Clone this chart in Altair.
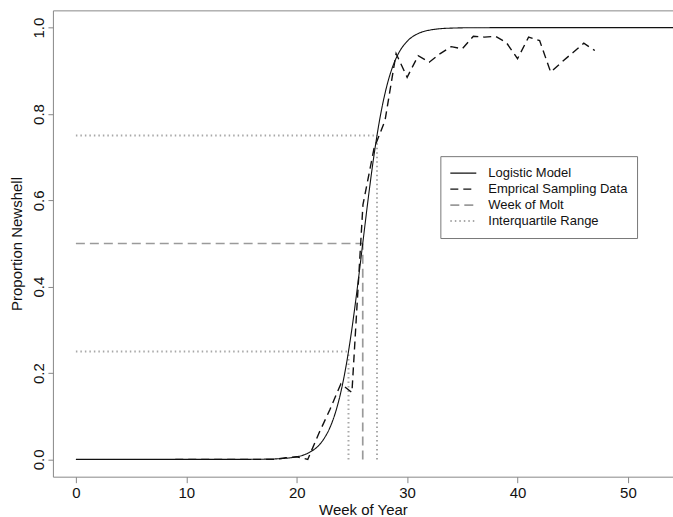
import altair as alt
import pandas as pd

# ---- data ----
series_names = ["Logistic Model", "Emprical Sampling Data", "Week of Molt", "Interquartile Range"]

logistic_weeks = [0, 5, 10, 14, 16, 17, 18, 19, 20, 21, 22, 22.5, 23, 23.5, 24, 24.5, 25, 25.5,
                  26, 26.5, 27, 27.5, 28, 28.5, 29, 29.5, 30, 31, 32, 33, 34, 36, 40, 50, 56]
logistic_prop = [0.0, 0.0, 0.0, 0.0, 0.0002, 0.0005, 0.0011, 0.0026, 0.0061, 0.0142, 0.0326, 0.0491,
                 0.0732, 0.1079, 0.1562, 0.2208, 0.3026, 0.3992, 0.5043, 0.609, 0.7046, 0.785,
                 0.848, 0.8954, 0.929, 0.9525, 0.9684, 0.9863, 0.9941, 0.9975, 0.9989, 0.9998,
                 1.0, 1.0, 1.0]

sample_weeks = list(range(9, 48))
sample_prop = [0, 0, 0, 0, 0, 0, 0, 0, 0, 0,
               0.004, 0.006, 0.0, 0.06, 0.115, 0.175, 0.155, 0.59, 0.72, 0.785,
               0.94, 0.885, 0.935, 0.92, 0.94, 0.956, 0.951, 0.98, 0.978, 0.98,
               0.965, 0.928, 0.978, 0.97, 0.897, 0.92, 0.942, 0.964, 0.947]

ref_weeks = [24.69, 25.98, 27.27]
ref_levels = [0.25, 0.5, 0.75]
ref_series = ["Interquartile Range", "Week of Molt", "Interquartile Range"]

x_ticks = [0, 10, 20, 30, 40, 50]
y_ticks = [0.0, 0.2, 0.4, 0.6, 0.8, 1.0]

# ---- tables ----
logi = pd.DataFrame({"week": logistic_weeks, "prop": logistic_prop, "series": series_names[0]})
samp = pd.DataFrame({"week": sample_weeks, "prop": sample_prop, "series": series_names[1]})

rows = []
for w, lv, s in zip(ref_weeks, ref_levels, ref_series):
    rows.append({"x": 0, "x2": w, "y": lv, "y2": lv, "series": s})
    rows.append({"x": w, "x2": w, "y": 0, "y2": lv, "series": s})
refs = pd.DataFrame(rows)

FONT = "Liberation Sans"

xscale = alt.Scale(domain=[-2.08, 54.08], nice=False, zero=False)
yscale = alt.Scale(domain=[-0.04, 1.04], nice=False, zero=False)

color_scale = alt.Scale(domain=series_names, range=["#111111", "#111111", "#9a9a9a", "#a8a8a8"])
dash_scale = alt.Scale(domain=series_names, range=[[1, 0], [8, 5], [9, 5], [1.5, 3]])
width_scale = alt.Scale(domain=series_names, range=[1.1, 2.0, 1.3, 1.3])

leg = alt.Legend(
    title=None, orient="none", legendX=388, legendY=146,
    symbolType="stroke", symbolSize=676, symbolStrokeWidth=1.6,
    labelFont=FONT, labelFontSize=13, labelColor="#111", labelOffset=11,
    padding=9, strokeColor="#777", clipHeight=16, rowPadding=0,
)

def enc_series():
    return dict(
        color=alt.Color("series:N", scale=color_scale, legend=leg),
        strokeDash=alt.StrokeDash("series:N", scale=dash_scale, legend=leg),
        strokeWidth=alt.StrokeWidth("series:N", scale=width_scale, legend=leg),
    )

xaxis = alt.Axis(values=x_ticks, title="Week of Year", tickSize=6, labelPadding=3,
                 domain=False, grid=False, tickColor="#888", labelColor="#111",
                 labelFont=FONT, labelFontSize=15, titleFont=FONT, titleFontSize=15,
                 titleFontWeight="normal", titleColor="#111", titleY=38,
                 titleBaseline="alphabetic", labelFlush=False)
yaxis = alt.Axis(values=y_ticks, title="Proportion Newshell", format=".1f", tickSize=5,
                 labelPadding=4, labelAngle=-90, labelAlign="center", labelBaseline="alphabetic",
                 domain=False, grid=False, tickColor="#888", labelColor="#111",
                 labelFont=FONT, labelFontSize=15, titleFont=FONT, titleFontSize=15,
                 titleFontWeight="normal", titleColor="#111", titleAngle=-90,
                 titleX=-31, titleY=233.5, titleAlign="center", titleBaseline="alphabetic",
                 labelFlush=False)

logistic_layer = alt.Chart(logi).mark_line(clip=True, interpolate="monotone").encode(
    x=alt.X("week:Q", scale=xscale, axis=xaxis),
    y=alt.Y("prop:Q", scale=yscale, axis=yaxis),
    **enc_series(),
)

sample_layer = alt.Chart(samp).mark_line(clip=True).encode(
    x=alt.X("week:Q", scale=xscale),
    y=alt.Y("prop:Q", scale=yscale),
    **enc_series(),
)

ref_layer = alt.Chart(refs).mark_rule(clip=True).encode(
    x=alt.X("x:Q", scale=xscale),
    x2="x2:Q",
    y=alt.Y("y:Q", scale=yscale),
    y2="y2:Q",
    **enc_series(),
)

chart = alt.layer(ref_layer, logistic_layer, sample_layer).properties(
    width=621, height=467,
    autosize=alt.AutoSizeParams(type="none"),
    padding={"left": 53, "top": 10, "right": 0, "bottom": 40},
    background="white",
).configure_view(stroke="#888", strokeWidth=1)

chart.save("out.html", embed_options={"renderer": "svg", "actions": False})
